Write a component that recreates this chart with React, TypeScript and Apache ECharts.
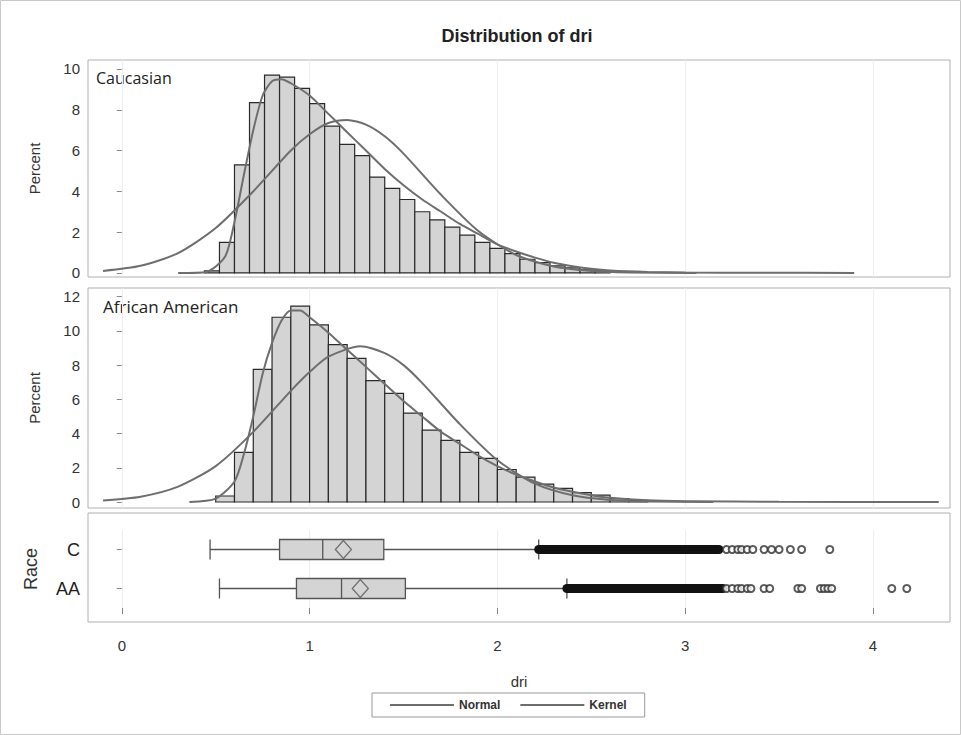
import React, { useEffect, useRef } from "react";
import * as echarts from "echarts";

// Caucasian histogram (bins of 0.08 starting at 0.44)
const cBinStart = 0.44;
const cBinWidth = 0.08;
const cHist = [0.1, 1.5, 5.3, 8.35, 9.7, 9.6, 9.05, 8.3, 7.2, 6.3, 5.75, 4.7, 4.15, 3.6, 3.0, 2.6, 2.25, 1.85, 1.5, 1.2, 0.95, 0.67, 0.5, 0.35, 0.25, 0.15, 0.1];
// African American histogram (bins of 0.1 starting at 0.5)
const aBinStart = 0.5;
const aBinWidth = 0.1;
const aHist = [0.35, 2.9, 7.75, 10.8, 11.45, 10.35, 9.2, 8.4, 7.1, 6.35, 5.2, 4.2, 3.6, 2.9, 2.55, 1.9, 1.45, 1.05, 0.8, 0.55, 0.4, 0.2, 0.1];

const cNormal: [number, number][] = [[-0.1, 0.1], [0.1, 0.35], [0.3, 0.97], [0.5, 2.2], [0.7, 4.0], [0.9, 6.0], [1.0, 6.8], [1.1, 7.35], [1.2, 7.5], [1.3, 7.27], [1.4, 6.7], [1.5, 5.85], [1.7, 3.83], [1.9, 2.04], [2.1, 0.88], [2.3, 0.31], [2.5, 0.09], [2.7, 0.02], [3.06, 0]];
const cKernel: [number, number][] = [[0.3, 0], [0.45, 0.05], [0.55, 0.8], [0.6, 2.5], [0.65, 4.8], [0.7, 7], [0.75, 8.7], [0.8, 9.4], [0.85, 9.5], [0.9, 9.3], [1.0, 8.7], [1.1, 7.8], [1.2, 6.9], [1.3, 6.0], [1.4, 5.1], [1.5, 4.3], [1.6, 3.6], [1.7, 3.0], [1.8, 2.4], [1.9, 1.9], [2.0, 1.4], [2.1, 1.05], [2.2, 0.75], [2.3, 0.5], [2.4, 0.33], [2.5, 0.2], [2.6, 0.12], [2.8, 0.05], [3.0, 0.02], [3.4, 0.01], [3.9, 0]];
const aNormal: [number, number][] = [[-0.1, 0.09], [0.1, 0.31], [0.3, 0.9], [0.5, 2.1], [0.7, 4.1], [0.9, 6.5], [1.0, 7.6], [1.1, 8.5], [1.27, 9.1], [1.4, 8.7], [1.5, 8.0], [1.6, 6.95], [1.8, 4.55], [2.0, 2.44], [2.2, 1.07], [2.4, 0.39], [2.6, 0.12], [2.8, 0.03], [3.15, 0]];
const aKernel: [number, number][] = [[0.36, 0], [0.5, 0.2], [0.6, 1.2], [0.65, 2.8], [0.7, 5], [0.75, 7.5], [0.8, 9.3], [0.85, 10.6], [0.9, 11.2], [0.95, 11.2], [1.0, 10.8], [1.1, 9.9], [1.2, 8.9], [1.3, 7.9], [1.4, 6.9], [1.5, 5.9], [1.6, 5.0], [1.7, 4.1], [1.8, 3.4], [1.9, 2.7], [2.0, 2.1], [2.1, 1.6], [2.2, 1.2], [2.3, 0.85], [2.4, 0.6], [2.5, 0.4], [2.6, 0.25], [2.8, 0.1], [3.0, 0.05], [3.5, 0.01], [4.35, 0]];

const races = ["AA", "C"];
// [min, Q1, median, Q3, max]
const boxC = [0.47, 0.84, 1.07, 1.395, 2.22];
const boxAA = [0.52, 0.93, 1.17, 1.51, 2.37];
const meanC = 1.18;
const meanAA = 1.27;
const denseC = [2.22, 3.18];
const denseAA = [2.37, 3.2];
const outC = [3.22, 3.25, 3.28, 3.3, 3.33, 3.36, 3.42, 3.46, 3.5, 3.56, 3.62, 3.77];
const outAA = [3.22, 3.25, 3.28, 3.3, 3.33, 3.35, 3.42, 3.45, 3.6, 3.62, 3.72, 3.74, 3.76, 3.78, 4.1, 4.18];

const xTicks = [0, 1, 2, 3, 4];
const yTicksC = [0, 2, 4, 6, 8, 10];
const yTicksA = [0, 2, 4, 6, 8, 10, 12];

const FONT = "Liberation Sans";
const CURVE = "#6e6e6e";

function histData(start: number, w: number, vals: number[]) {
  return vals.map((v, i) => [start + i * w, start + (i + 1) * w, v]);
}

const renderBar = (params: any, api: any) => {
  const p1 = api.coord([api.value(0), api.value(2)]);
  const p2 = api.coord([api.value(1), 0]);
  return {
    type: "rect",
    shape: { x: p1[0], y: p1[1], width: p2[0] - p1[0], height: p2[1] - p1[1] },
    style: { fill: "#d4d4d4", stroke: "#2a2a2a", lineWidth: 1.2 },
  };
};

export default function App() {
  const ref = useRef<HTMLDivElement>(null);
  useEffect(() => {
    document.body.style.margin = "0";
    const chart = echarts.init(ref.current!, null, { renderer: "svg" });
    const xAxisBase = (gi: number, showLabels: boolean) => ({
      type: "value",
      gridIndex: gi,
      min: -0.18,
      max: 4.41,
      axisLine: { show: false },
      axisTick: { show: showLabels, customValues: xTicks, length: 6, lineStyle: { color: "#888" } },
      axisLabel: { show: showLabels, customValues: xTicks, color: "#333", fontSize: 15, fontFamily: FONT, margin: 30 },
      splitLine: { show: true, lineStyle: { color: "#eeeeee" } },
      name: showLabels ? "dri" : "",
      nameLocation: "middle",
      nameGap: 66,
      nameTextStyle: { color: "#333", fontSize: 15, fontFamily: FONT },
    });
    const yAxisHist = (gi: number, min: number, max: number, ticks: number[]) => ({
      type: "value",
      gridIndex: gi,
      min,
      max,
      name: "Percent",
      nameLocation: "middle",
      nameGap: 46,
      nameTextStyle: { color: "#333", fontSize: 15, fontFamily: FONT },
      axisLine: { show: false },
      axisTick: { show: true, customValues: ticks, lineStyle: { color: "#888" } },
      axisLabel: { customValues: ticks, color: "#333", fontSize: 15, fontFamily: FONT },
      splitLine: { show: false },
    });
    const line = (name: string, xi: number, data: any) => ({
      type: "line",
      name,
      xAxisIndex: xi,
      yAxisIndex: xi,
      data,
      smooth: 0.25,
      showSymbol: false,
      symbol: "none",
      lineStyle: { color: CURVE, width: 2 },
      itemStyle: { color: CURVE },
      z: 5,
    });
    chart.setOption({
      animation: false,
      backgroundColor: "#fff",
      title: {
        text: "Distribution of dri",
        left: 512,
        top: 22,
        textAlign: "center",
        textStyle: { fontFamily: FONT, fontSize: 18, fontWeight: "bold", color: "#222" },
      },
      grid: [
        { left: 88, width: 862, top: 60, height: 217, show: true, borderColor: "#b0b0b0", borderWidth: 1 },
        { left: 88, width: 862, top: 288, height: 220, show: true, borderColor: "#b0b0b0", borderWidth: 1 },
        { left: 88, width: 862, top: 530, height: 78, show: false },
      ],
      xAxis: [xAxisBase(0, false), xAxisBase(1, false), xAxisBase(2, true)],
      yAxis: [
        yAxisHist(0, -0.2, 10.44, yTicksC),
        yAxisHist(1, -0.35, 12.51, yTicksA),
        {
          type: "category",
          gridIndex: 2,
          data: races,
          name: "Race",
          nameLocation: "middle",
          nameGap: 48,
          nameTextStyle: { color: "#333", fontSize: 18, fontFamily: FONT },
          axisLine: { show: false },
          axisTick: { show: true, alignWithLabel: true, lineStyle: { color: "#888" } },
          axisLabel: { color: "#222", fontSize: 18, fontFamily: FONT },
        },
      ],
      legend: {
        data: ["Normal", "Kernel"],
        left: 372,
        top: 693,
        itemWidth: 64,
        itemHeight: 2,
        icon: "rect",
        itemGap: 20,
        padding: [6, 18, 6, 18],
        borderColor: "#999",
        borderWidth: 1,
        textStyle: { fontFamily: FONT, fontSize: 12, color: "#333", fontWeight: "bold" },
      },
      graphic: [
        { type: "rect", shape: { x: 0.5, y: 0.5, width: 960, height: 734 }, style: { fill: "none", stroke: "#c8c8c8", lineWidth: 1 } },
        { type: "rect", shape: { x: 88, y: 513, width: 862, height: 109 }, style: { fill: "none", stroke: "#b0b0b0", lineWidth: 1 } },
        { type: "text", x: 96, y: 70, style: { text: "Caucasian", fontFamily: "Open Sans", fontSize: 16, fill: "#222" } },
        { type: "text", x: 103, y: 298, style: { text: "African American", fontFamily: "Open Sans", fontSize: 17, fill: "#222" } },
      ],
      series: [
        { type: "custom", xAxisIndex: 0, yAxisIndex: 0, renderItem: renderBar, data: histData(cBinStart, cBinWidth, cHist), z: 2 },
        { type: "custom", xAxisIndex: 1, yAxisIndex: 1, renderItem: renderBar, data: histData(aBinStart, aBinWidth, aHist), z: 2 },
        line("Normal", 0, cNormal),
        line("Kernel", 0, cKernel),
        line("Normal", 1, aNormal),
        line("Kernel", 1, aKernel),
        {
          type: "boxplot",
          xAxisIndex: 2,
          yAxisIndex: 2,
          layout: "horizontal",
          boxWidth: [20, 20],
          data: [boxAA, boxC],
          itemStyle: { color: "#d4d4d4", borderColor: "#555", borderWidth: 1.3 },
        },
        {
          type: "line",
          xAxisIndex: 2,
          yAxisIndex: 2,
          data: [[denseC[0], "C"], [denseC[1], "C"]],
          symbol: "none",
          lineStyle: { color: "#111", width: 9, cap: "round" },
          z: 4,
        },
        {
          type: "line",
          xAxisIndex: 2,
          yAxisIndex: 2,
          data: [[denseAA[0], "AA"], [denseAA[1], "AA"]],
          symbol: "none",
          lineStyle: { color: "#111", width: 9, cap: "round" },
          z: 4,
        },
        {
          type: "scatter",
          xAxisIndex: 2,
          yAxisIndex: 2,
          symbol: "emptyCircle",
          symbolSize: 7,
          itemStyle: { color: "#333", borderColor: "#333", borderWidth: 1 },
          data: [...outC.map((v) => [v, "C"]), ...outAA.map((v) => [v, "AA"])],
          z: 5,
        },
        {
          type: "scatter",
          xAxisIndex: 2,
          yAxisIndex: 2,
          symbol: "diamond",
          symbolSize: [16, 18],
          itemStyle: { color: "rgba(0,0,0,0)", borderColor: "#555", borderWidth: 1.3 },
          data: [[meanC, "C"], [meanAA, "AA"]],
          z: 6,
        },
      ],
    });
    return () => chart.dispose();
  }, []);
  return <div ref={ref} style={{ width: 961, height: 735 }} />;
}
